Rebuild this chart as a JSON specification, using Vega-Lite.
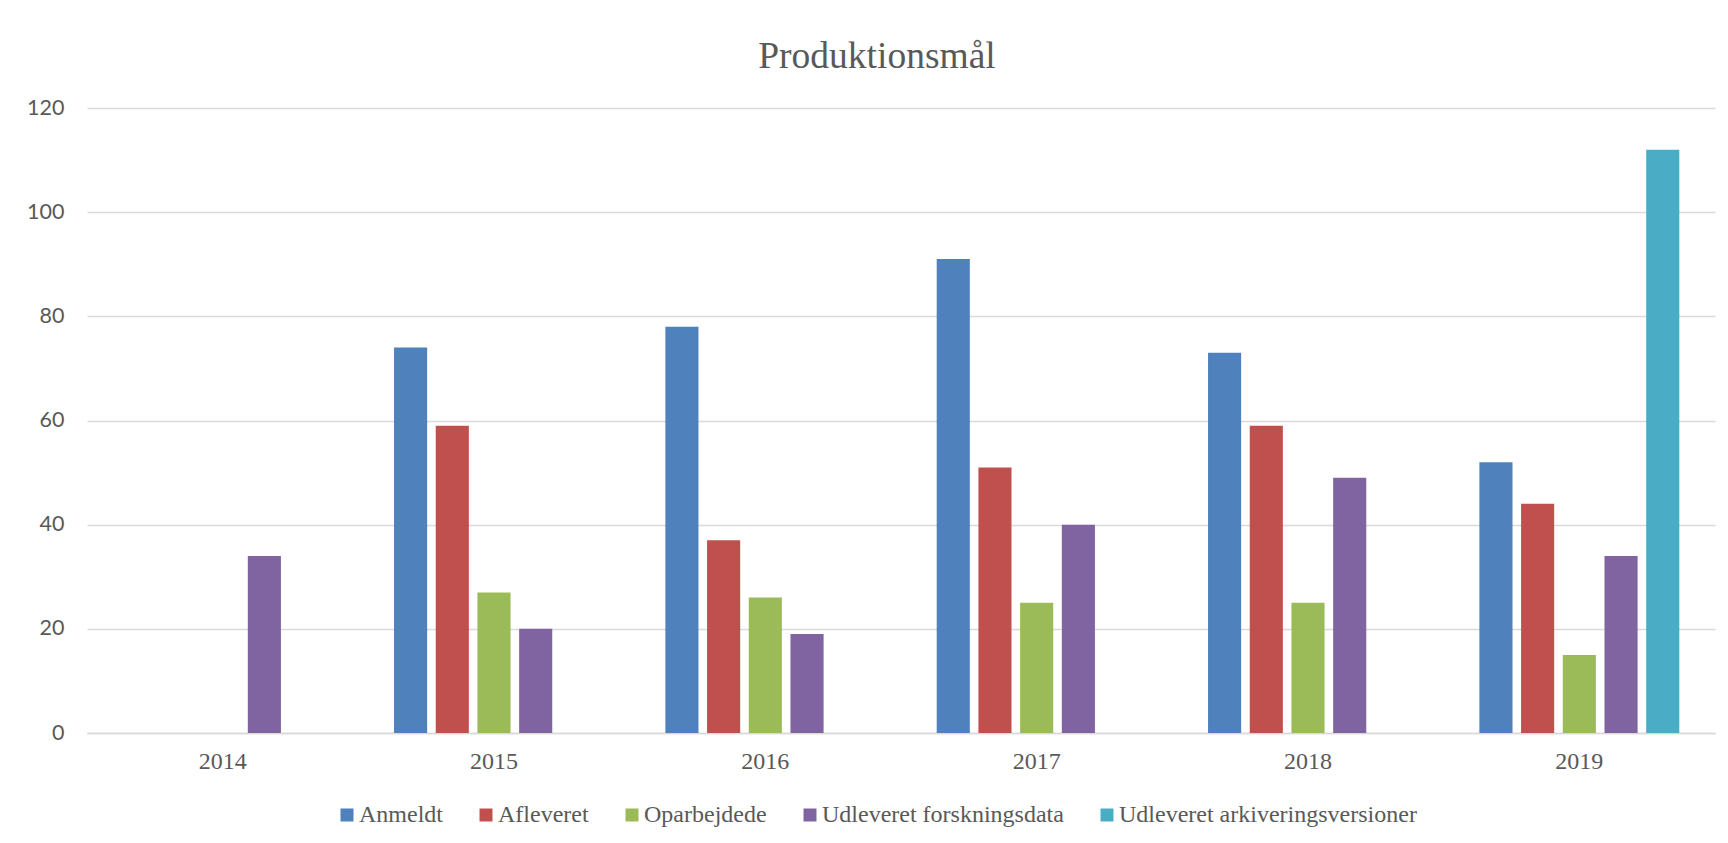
{
  "$schema": "https://vega.github.io/schema/vega-lite/v6.json",
  "width": 1628,
  "height": 625,
  "autosize": {"type": "none"},
  "padding": {"left": 87, "top": 108, "right": 13, "bottom": 110},
  "background": "white",
  "title": {
    "text": "Produktionsmål",
    "font": "Liberation Serif",
    "fontSize": 37.5,
    "fontWeight": "normal",
    "color": "#595959",
    "anchor": "middle",
    "frame": "group",
    "dx": -24,
    "dy": 37,
    "baseline": "alphabetic",
    "offset": 29
  },
  "data": {
    "values": [
      {"year": "2014", "series": "Udleveret forskningsdata", "value": 34},
      {"year": "2015", "series": "Anmeldt", "value": 74},
      {"year": "2015", "series": "Afleveret", "value": 59},
      {"year": "2015", "series": "Oparbejdede", "value": 27},
      {"year": "2015", "series": "Udleveret forskningsdata", "value": 20},
      {"year": "2016", "series": "Anmeldt", "value": 78},
      {"year": "2016", "series": "Afleveret", "value": 37},
      {"year": "2016", "series": "Oparbejdede", "value": 26},
      {"year": "2016", "series": "Udleveret forskningsdata", "value": 19},
      {"year": "2017", "series": "Anmeldt", "value": 91},
      {"year": "2017", "series": "Afleveret", "value": 51},
      {"year": "2017", "series": "Oparbejdede", "value": 25},
      {"year": "2017", "series": "Udleveret forskningsdata", "value": 40},
      {"year": "2018", "series": "Anmeldt", "value": 73},
      {"year": "2018", "series": "Afleveret", "value": 59},
      {"year": "2018", "series": "Oparbejdede", "value": 25},
      {"year": "2018", "series": "Udleveret forskningsdata", "value": 49},
      {"year": "2019", "series": "Anmeldt", "value": 52},
      {"year": "2019", "series": "Afleveret", "value": 44},
      {"year": "2019", "series": "Oparbejdede", "value": 15},
      {"year": "2019", "series": "Udleveret forskningsdata", "value": 34},
      {"year": "2019", "series": "Udleveret arkiveringsversioner", "value": 112}
    ]
  },
  "mark": {"type": "bar"},
  "encoding": {
    "x": {
      "field": "year",
      "type": "nominal",
      "scale": {"paddingInner": 0.2315, "paddingOuter": 0.1157},
      "axis": {
        "title": null,
        "labelAngle": 0,
        "labelFont": "Liberation Serif",
        "labelFontSize": 24,
        "labelColor": "#595959",
        "ticks": false,
        "domainColor": "#D9D9D9",
        "domainWidth": 1.5,
        "labelPadding": 16
      }
    },
    "xOffset": {
      "field": "series",
      "type": "nominal",
      "scale": {
        "domain": ["Anmeldt", "Afleveret", "Oparbejdede", "Udleveret forskningsdata", "Udleveret arkiveringsversioner"],
        "paddingInner": 0.206,
        "paddingOuter": 0.103
      }
    },
    "y": {
      "field": "value",
      "type": "quantitative",
      "scale": {"domain": [0, 120]},
      "axis": {
        "title": null,
        "values": [0, 20, 40, 60, 80, 100, 120],
        "ticks": false,
        "domain": false,
        "gridColor": "#D9D9D9",
        "gridWidth": 1.5,
        "labelFont": "Lato",
        "labelFontSize": 21.5,
        "labelColor": "#595959",
        "labelPadding": 23
      }
    },
    "color": {
      "field": "series",
      "type": "nominal",
      "scale": {
        "domain": ["Anmeldt", "Afleveret", "Oparbejdede", "Udleveret forskningsdata", "Udleveret arkiveringsversioner"],
        "range": ["#4F81BD", "#C0504D", "#9BBB59", "#8064A2", "#4BACC6"]
      },
      "legend": {
        "title": null,
        "orient": "none",
        "direction": "horizontal",
        "legendX": 248,
        "legendY": 695,
        "padding": 0,
        "symbolType": "square",
        "symbolSize": 169,
        "symbolStrokeWidth": 0,
        "labelFont": "Liberation Serif",
        "labelFontSize": 24,
        "labelColor": "#595959",
        "labelOffset": 0,
        "columnPadding": 31,
        "labelLimit": 600
      }
    }
  },
  "config": {"view": {"stroke": null}}
}
